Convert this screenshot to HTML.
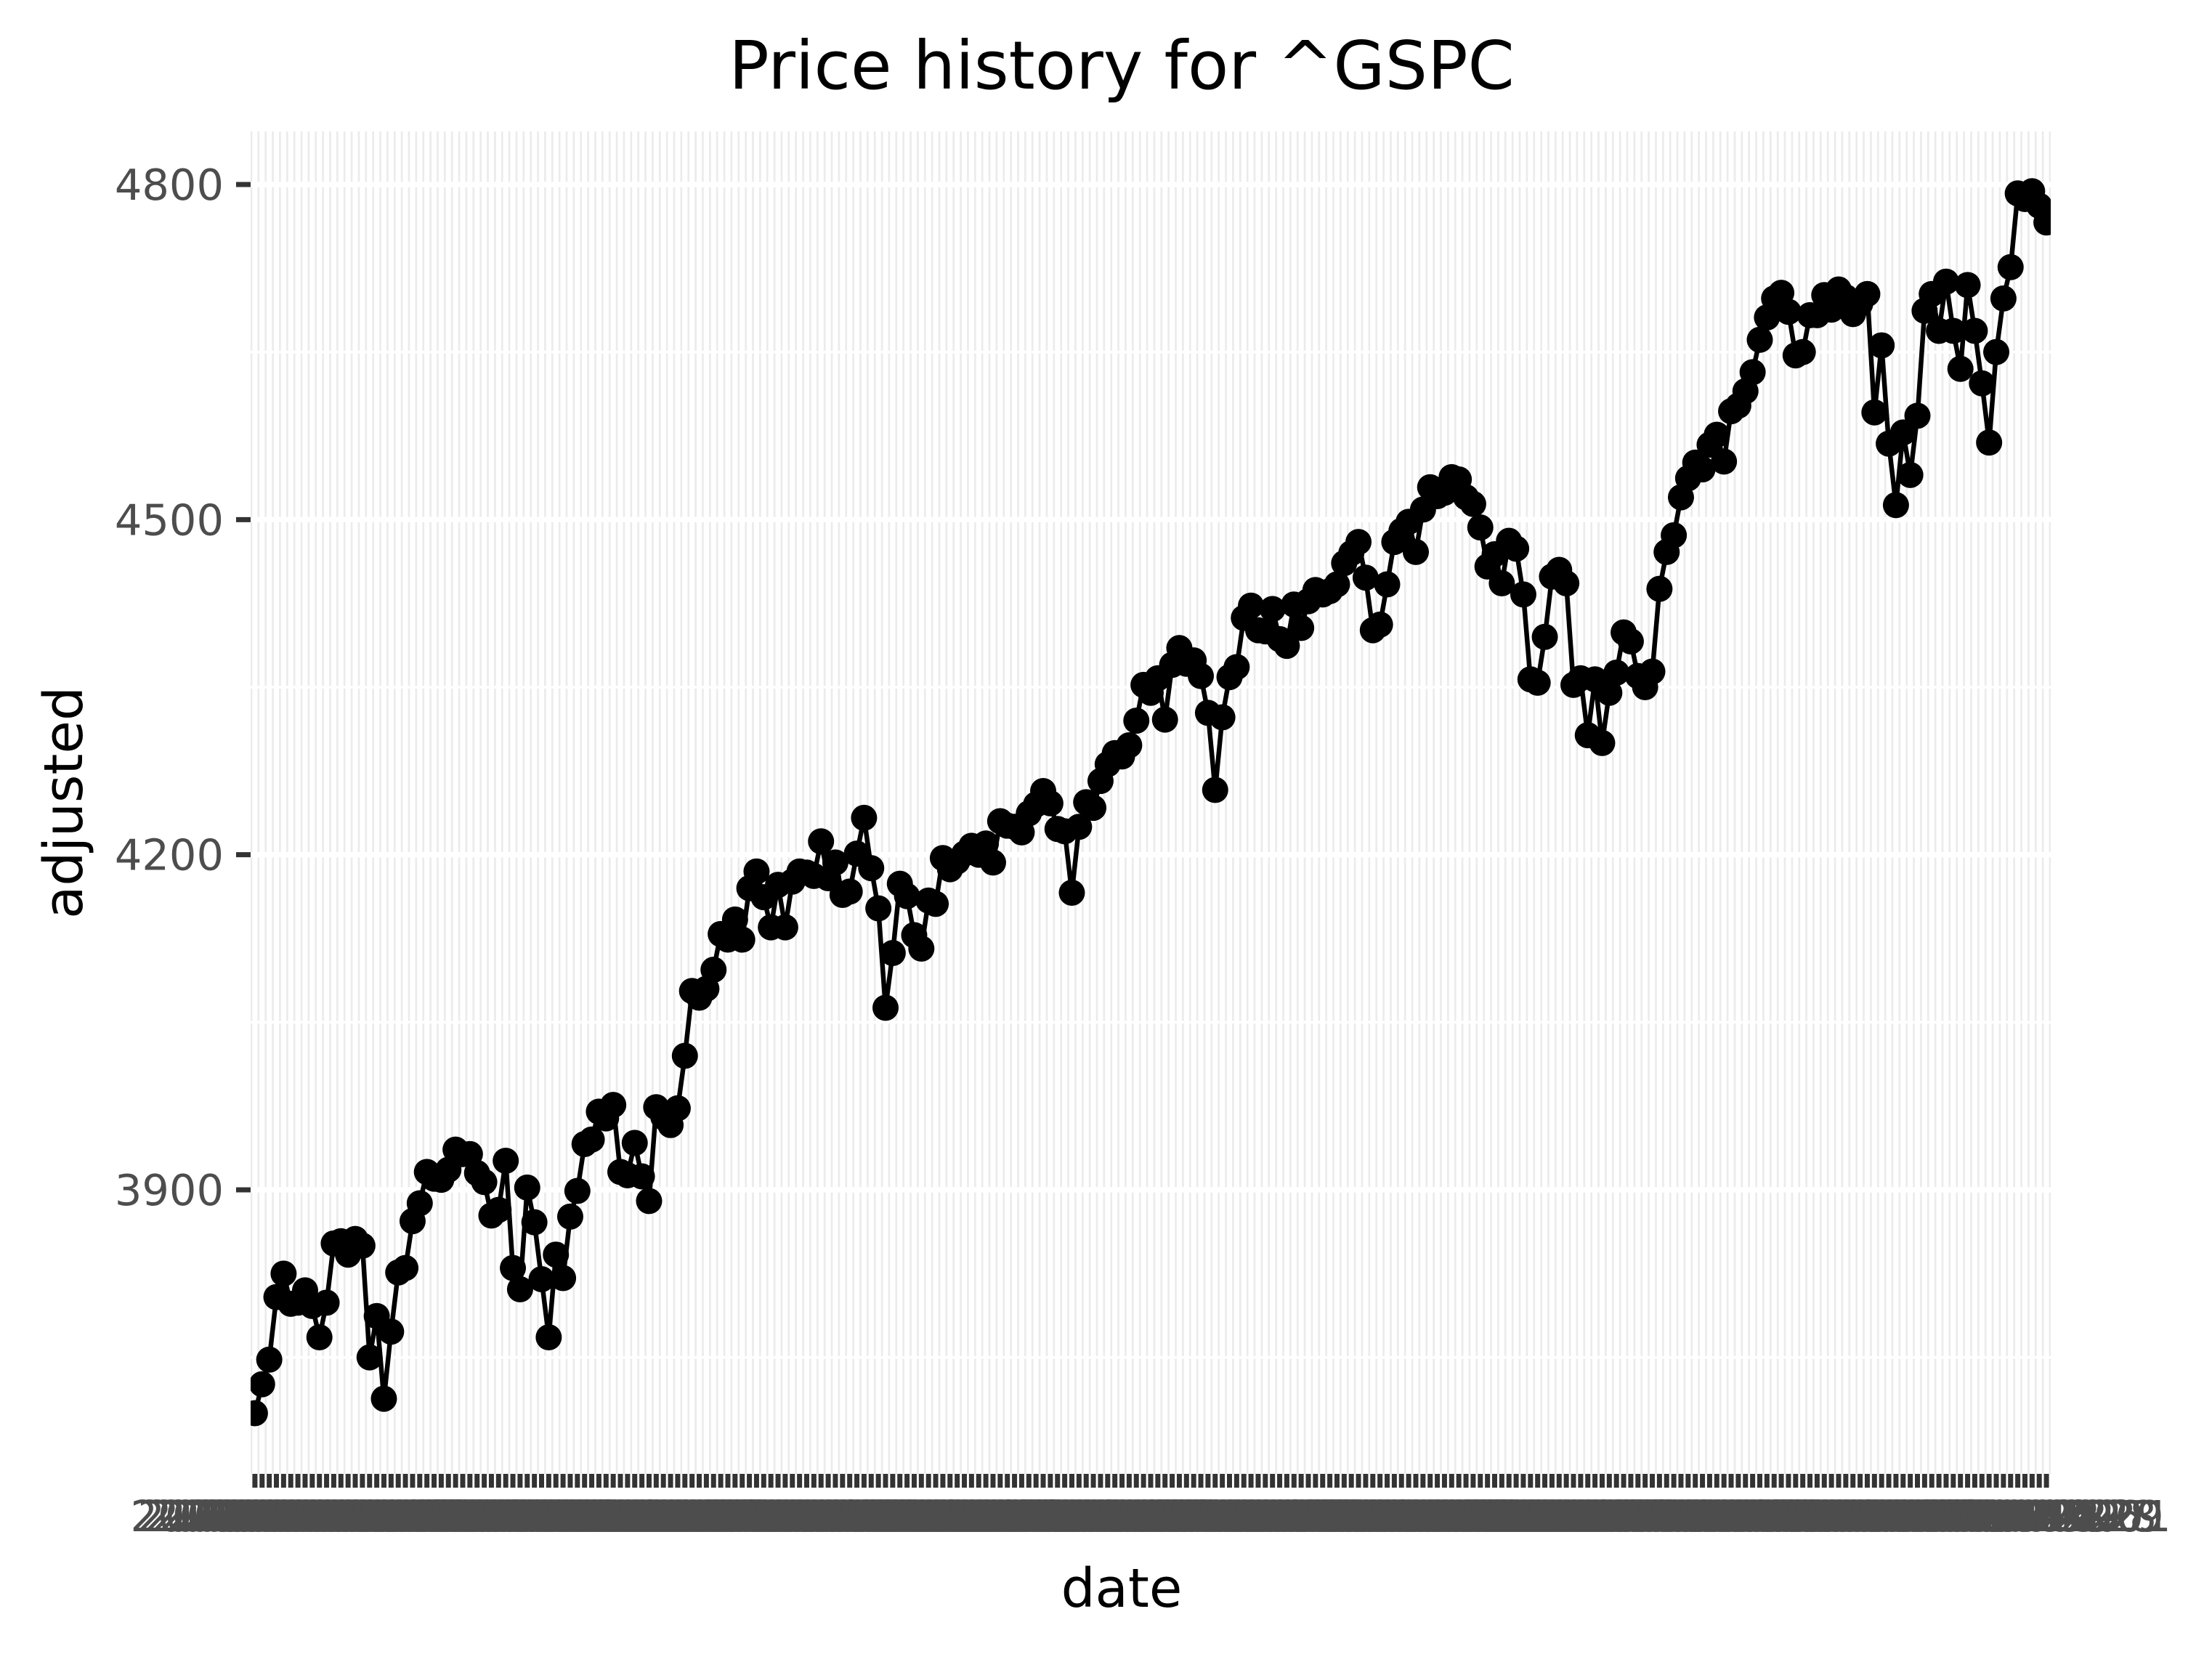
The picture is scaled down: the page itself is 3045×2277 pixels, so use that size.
<!DOCTYPE html>
<html><head><meta charset="utf-8"><style>
html,body{margin:0;padding:0;background:#fff}
svg{display:block}
text{font-family:"DejaVu Sans","Liberation Sans",sans-serif}
</style></head><body>
<svg id="chart" width="3045" height="2277" viewBox="0 0 3045 2277" xmlns="http://www.w3.org/2000/svg">
<rect x="0" y="0" width="3045" height="2277" fill="#ffffff"/>
<text x="1544" y="122" font-size="92" text-anchor="middle" fill="#000">Price history for ^GSPC</text>
<text x="1544" y="2212" font-size="74" text-anchor="middle" fill="#000">date</text>
<text transform="translate(113,1105) rotate(-90)" font-size="74" text-anchor="middle" fill="#000">adjusted</text>
<g id="panel"></g>
</svg>
<script>
const values = [
3700,3726,3748,3804,3825,3798,3799,3810,3796,3768,3799,3852,3854,3842,3856,3850,3750,3787,3713,3773,3826,3830,3872,3888,3916,3910,3909,3918,3936,3932,3932,3915,3907,3877,3882,3926,3830,3811,3902,3871,3820,3768,3842,3821,3876,3899,3941,3945,3970,3964,3976,3916,3913,3942,3912,3890,
3974,3965,3958,3973,4020,4078,4072,4080,4097,4129,4124,4142,4124,4170,4185,4162,4135,4173,4135,4176,4185,4184,4181,4212,4179,4193,4164,4167,4201,4233,4188,4152,4063,4112,4174,4163,4128,4116,4159,4156,4197,4187,4194,4201,4208,4200,4210,4193,4230,4226,4225,4220,4237,4245,
4257,4246,4223,4221,4166,4225,4247,4242,4266,4281,4291,4288,4298,4320,4352,4345,4358,4321,4370,4385,4371,4374,4360,4327,4258,4323,4359,4368,4412,4423,4401,4400,4420,4393,4387,4424,4403,4427,4437,4433,4436,4442,4461,4470,4480,4448,4401,4406,4442,4480,4490,4498,4471,4509,
4529,4521,4524,4538,4536,4520,4514,4493,4458,4469,4443,4481,4474,4433,4357,4354,4395,4449,4455,4443,4352,4358,4307,4357,4300,4345,4363,4399,4391,4360,4350,4364,4438,4471,4486,4520,4537,4551,4545,4567,4576,4552,4597,4602,
4615,4632,4661,4681,4698,4703,4686,4647,4650,4683,4683,4701,4688,4706,4699,4684,4693,4702,4596,4656,4568,4513,4578,4540,4593,4687,4702,4669,4713,4669,4635,4710,4669,4622,4569,4650,4698,4726,4792,4787,4794,4781,4766
];
const yTicks = [3900, 4200, 4500, 4800];
const yMinorTicks = [3750, 4050, 4350, 4650];
const holidays = ["2023-01-16","2023-02-20","2023-04-07","2023-05-29","2023-06-19","2023-07-04","2023-09-04","2023-11-23","2023-12-25"];
const startDate = "2023-01-03";

const dates = [];
(function(){
  let d = new Date(startDate + "T00:00:00Z");
  while (dates.length < values.length) {
    const dow = d.getUTCDay();
    const s = d.toISOString().slice(0,10);
    if (dow !== 0 && dow !== 6 && holidays.indexOf(s) < 0) dates.push(s);
    d = new Date(d.getTime() + 86400000);
  }
})();

const NS = "http://www.w3.org/2000/svg";
const L = 345, R = 2823, T = 181, B = 2029;
const N = values.length;
const step = (R - L) / (N - 1 + 1.2);
function xScale(i){ return L + step * (0.6 + i); }
function yScale(v){ return 254 + (4800 - v) * (1638 - 254) / 900; }

const svg = document.getElementById('chart');
const panel = document.getElementById('panel');
function mk(tag, attrs, parent){
  const e = document.createElementNS(NS, tag);
  for (const k in attrs) e.setAttribute(k, attrs[k]);
  (parent || svg).appendChild(e);
  return e;
}

let bg = mk('rect', {x:L, y:T, width:R-L, height:B-T, fill:'#ebebeb'}, panel);



yMinorTicks.forEach(v => {
  const g = mk('line', {x1:L, x2:R, y1:yScale(v), y2:yScale(v), stroke:'#fff', 'stroke-width':3.7}, panel);
  
  
});
yTicks.forEach(v => {
  const g = mk('line', {x1:L, x2:R, y1:yScale(v), y2:yScale(v), stroke:'#fff', 'stroke-width':7.4}, panel);
  
  
});
for (let i = 0; i < N; i++) {
  const g = mk('line', {x1:xScale(i), x2:xScale(i), y1:T, y2:B, stroke:'#fff', 'stroke-width':7.2}, panel);
  
  
}

yTicks.forEach(v => {
  const t = mk('line', {x1:325, x2:L, y1:yScale(v), y2:yScale(v), stroke:'#333', 'stroke-width':7});
  
  
  const lb = mk('text', {x:308, y:yScale(v) + 21, 'font-size':59, 'text-anchor':'end', fill:'#4d4d4d'});
  lb.textContent = String(v);
  
  
});

const xt = mk('g', {});


for (let i = 0; i < N; i++) {
  const t = mk('line', {x1:xScale(i), x2:xScale(i), y1:B, y2:B + 19, stroke:'#333', 'stroke-width':7}, xt);
  
  
}
for (let i = 0; i < N; i++) {
  const lb = mk('text', {x:xScale(i), y:2108, 'font-size':59, 'text-anchor':'middle', fill:'#4d4d4d'}, xt);
  lb.textContent = dates[i];
  
  
}

const clip = mk('clipPath', {id:'pc'});
mk('rect', {x:L, y:T, width:R-L, height:B-T}, clip);
const series = mk('g', {'clip-path':'url(#pc)'});


let d = '';
values.forEach((v, i) => { d += (i ? 'L' : 'M') + xScale(i).toFixed(1) + ' ' + yScale(v).toFixed(1); });
const line = mk('path', {d:d, fill:'none', stroke:'#000', 'stroke-width':6.5, 'stroke-linejoin':'round'}, series);


values.forEach((v, i) => {
  const c = mk('circle', {cx:xScale(i), cy:yScale(v), r:18, fill:'#000'}, series);
  
  
});
</script>
</body></html>
